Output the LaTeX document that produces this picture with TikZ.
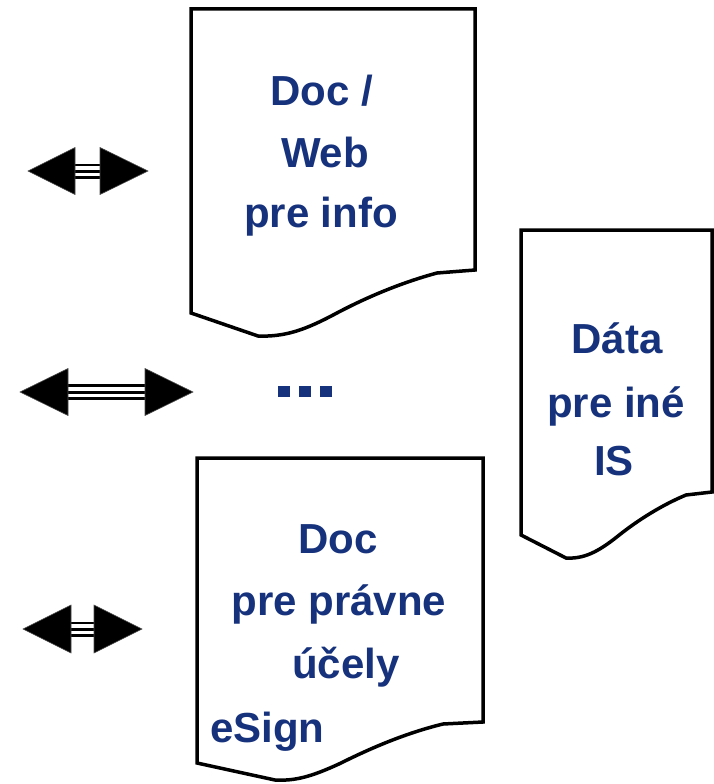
\documentclass[tikz,border=0pt]{standalone}
\usepackage{fontspec}
\setmainfont{Liberation Sans}
\definecolor{navy}{RGB}{22,50,124}
\tikzset{
  docline/.style={draw=black, line width=3.5pt, line join=miter, fill=white},
  lbl/.style={text=navy, font=\fontsize{42}{50}\selectfont\bfseries, inner sep=0pt, anchor=base},
  headfill/.style={fill=black, draw=black!70, line width=0.6pt},
  dotsq/.style={fill=navy, draw=none}
}
\newcommand{\myarrow}[7]{%
  % #1 left tip x, #2 left base x, #3 right base x, #4 right tip x, #5 y, #6 half height, #7 shaft width
  \draw[line width=#7pt, black] (#2,#5) -- (#3,#5);
  \draw[line width=#7pt-5.5pt, white] (#2,#5) -- (#3,#5);
  \draw[line width=3pt, black] (#2,#5) -- (#3,#5);
  \path[headfill] (#1,#5) -- (#2,#5-#6) -- (#2,#5+#6) -- cycle;
  \path[headfill] (#4,#5) -- (#3,#5-#6) -- (#3,#5+#6) -- cycle;
}
\begin{document}
\begin{tikzpicture}[x=1pt, y=-1pt]
\useasboundingbox (0,0) rectangle (714,784);

% Document 1
\path[docline] (191,9) -- (475,9) -- (475,270) -- (437,273)
  .. controls (400,283) and (365,298) .. (335,314)
  .. controls (305,330) and (285,337) .. (258,336) -- (191,313) -- cycle;
\node[lbl] (d1a) at (322,105) {Doc /};
\node[lbl] (d1b) at (325,167) {Web};
\node[lbl] (d1c) at (321,227) {pre info};

% Document 2
\path[docline] (521,230) -- (712,230) -- (712,492) -- (686,495)
  .. controls (662,505) and (638,520) .. (618,536)
  .. controls (598,552) and (584,559) .. (566,558) -- (521,535) -- cycle;
\node[lbl] (d2a) at (617,353) {Dáta};
\node[lbl] (d2b) at (616,417) {pre iné};
\node[lbl] (d2c) at (614,475) {IS};

% Document 3
\path[docline] (197,458) -- (483,458) -- (483,722) -- (443,724)
  .. controls (406,733) and (371,748) .. (341,763)
  .. controls (311,777) and (295,781) .. (275,780) -- (197,763) -- cycle;
\node[lbl] (d3a) at (338,553) {Doc};
\node[lbl] (d3b) at (339,615) {pre právne};
\node[lbl] (d3c) at (346,678) {účely};
\node[lbl, anchor=base west] (d3d) at (210,742) {eSign};

% dots
\path[dotsq] (278,386) rectangle (290,397);
\path[dotsq] (299,386) rectangle (311,397);
\path[dotsq] (320,386) rectangle (332,397);

% arrows
\myarrow{28}{75}{100}{148}{171}{23.5}{15}
\myarrow{20}{68}{145}{193}{392}{23.5}{16}
\myarrow{23}{71}{94}{142}{629}{24}{15}
\end{tikzpicture}
\end{document}
